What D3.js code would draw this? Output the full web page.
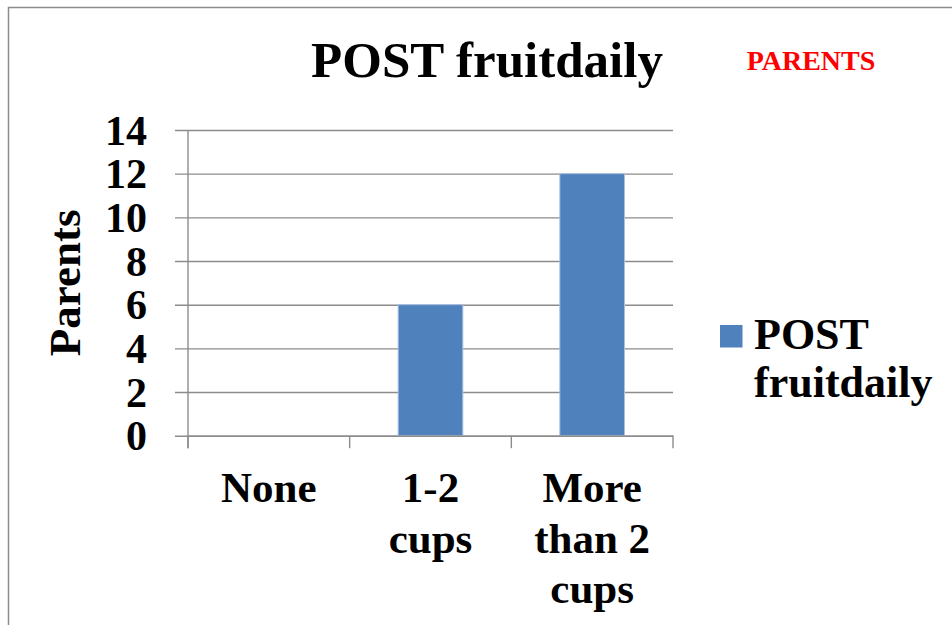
<!DOCTYPE html>
<html>
<head>
<meta charset="utf-8">
<script src="https://cdn.jsdelivr.net/npm/d3@7"></script>
<style>
  html, body { margin: 0; padding: 0; background: #fff; }
  svg { display: block; }
  text { font-family: "Liberation Serif", "DejaVu Serif", serif; font-weight: bold; }
</style>
</head>
<body>
<script>
const categories = ["None", "1-2 cups", "More than 2 cups"];
const values = [0, 6, 12];
const yTicks = [0, 2, 4, 6, 8, 10, 12, 14];
const seriesName = "POST fruitdaily";
const titleText = "POST fruitdaily";
const yAxisTitle = "Parents";
const badgeText = "PARENTS";

const W = 952, H = 625;
const svg = d3.select("body").append("svg").attr("width", W).attr("height", H);

// frame border
svg.append("rect").attr("x", 8.5).attr("y", 7.5).attr("width", W + 20).attr("height", H + 20)
  .attr("fill", "none").attr("stroke", "#8c8c8c").attr("stroke-width", 1.5);

const plot = { left: 188, right: 673, top: 130, bottom: 435.7 };
const x = d3.scaleBand().domain(categories).range([plot.left, plot.right]).padding(0);
const y = d3.scaleLinear().domain([0, 14]).range([plot.bottom, plot.top]);
const gridColor = "#8c8c8c";

// gridlines + y ticks (extend left of axis)
const yAxis = d3.axisLeft(y).tickValues(yTicks).tickSize(-(plot.right - plot.left)).tickFormat("").tickSizeOuter(0);
const gy = svg.append("g").attr("transform", `translate(${plot.left},0)`).call(yAxis);
gy.select(".domain").remove();
gy.selectAll(".tick line").attr("stroke", gridColor).attr("stroke-width", 1.4).attr("x1", -13);

// y tick labels
svg.append("g").selectAll("text").data(yTicks).join("text")
  .attr("x", 147).attr("y", d => y(d)).attr("dy", "0.35em")
  .attr("text-anchor", "end").attr("font-size", 42).attr("fill", "#000")
  .text(d => d);

// bars
const barW = x.bandwidth() * 0.4;
svg.append("g").selectAll("rect").data(values).join("rect")
  .attr("x", (d, i) => x(categories[i]) + (x.bandwidth() - barW) / 2)
  .attr("y", d => y(d))
  .attr("width", barW)
  .attr("height", d => y(0) - y(d))
  .attr("fill", "#4f81bd")
  .attr("stroke", d => d > 0 ? "#a9c0de" : "none").attr("stroke-width", 1);

// x axis line + ticks
const xAxis = d3.axisBottom(x).tickSize(0).tickFormat("");
const gx = svg.append("g").attr("transform", `translate(0,${plot.bottom})`).call(xAxis);
gx.select(".domain").attr("stroke", gridColor).attr("stroke-width", 1.4);
gx.selectAll(".tick").remove();
const bounds = categories.map(c => x(c)).concat([plot.right]);
gx.selectAll("line.ct").data(bounds).join("line").attr("class", "ct")
  .attr("x1", d => d).attr("x2", d => d).attr("y1", 0).attr("y2", 12.5)
  .attr("stroke", gridColor).attr("stroke-width", 1.4);
// y axis line
svg.append("line").attr("x1", plot.left).attr("x2", plot.left).attr("y1", plot.top).attr("y2", plot.bottom + 12.5)
  .attr("stroke", gridColor).attr("stroke-width", 1.4);

// x labels with wrapping
const maxW = 135, lineH = 50.5;
categories.forEach(c => {
  const t = svg.append("text").attr("text-anchor", "middle").attr("font-size", 43).attr("fill", "#000")
    .attr("x", x(c) + x.bandwidth() / 2).attr("y", 502);
  const words = c.split(" ");
  let line = [], lines = [];
  const probe = t.append("tspan");
  words.forEach(w => {
    const trial = line.concat([w]).join(" ");
    probe.text(trial);
    if (line.length && probe.node().getComputedTextLength() > maxW) { lines.push(line.join(" ")); line = [w]; }
    else line.push(w);
  });
  lines.push(line.join(" "));
  probe.remove();
  lines.forEach((l, i) => t.append("tspan").attr("x", x(c) + x.bandwidth() / 2).attr("dy", i ? lineH : 0).text(l));
});

// y axis title
svg.append("text").attr("transform", `translate(80,${(plot.top + plot.bottom) / 2}) rotate(-90)`)
  .attr("text-anchor", "middle").attr("font-size", 45).attr("fill", "#000").text(yAxisTitle);

// title
svg.append("text").attr("x", 487).attr("y", 77).attr("text-anchor", "middle")
  .attr("font-size", 51).attr("fill", "#000").text(titleText);

// badge
svg.append("text").attr("x", 811).attr("y", 70).attr("text-anchor", "middle")
  .attr("font-size", 28).attr("fill", "#ff0000").text(badgeText);

// legend
const lg = svg.append("g");
lg.append("rect").attr("x", 720).attr("y", 325).attr("width", 22.5).attr("height", 22.5).attr("fill", "#4f81bd");
const lt = lg.append("text").attr("x", 754).attr("y", 348.5).attr("font-size", 44).attr("fill", "#000");
seriesName.split(" ").forEach((w, i) => lt.append("tspan").attr("x", 754).attr("dy", i ? 48 : 0).text(w));
</script>
</body>
</html>
